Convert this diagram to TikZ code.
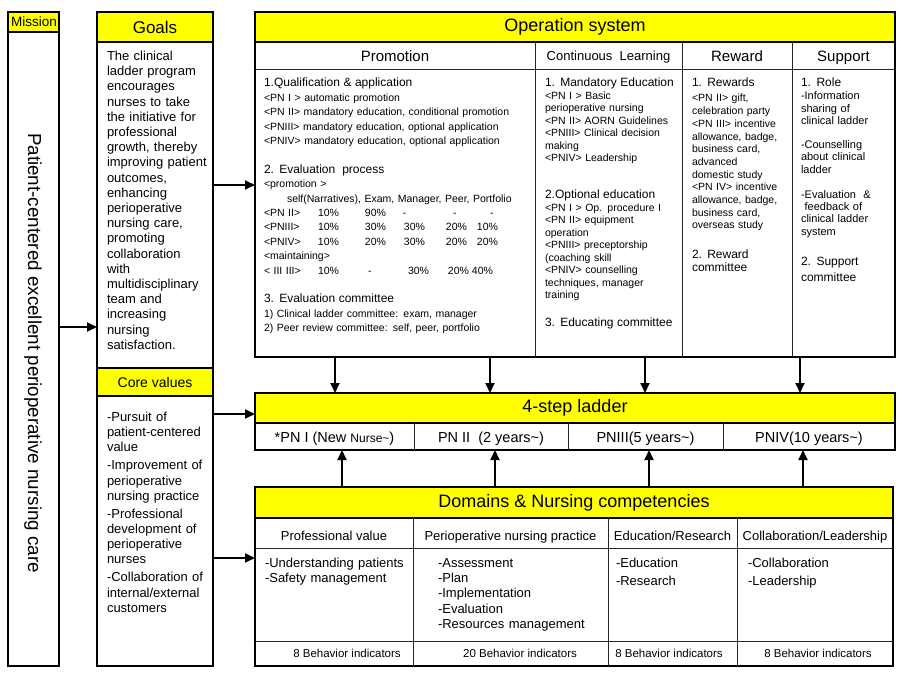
\documentclass[tikz,border=0pt]{standalone}
\usepackage{fontspec}
\setmainfont{Liberation Sans}
\usetikzlibrary{arrows.meta}
\definecolor{hy}{RGB}{255,255,0}
\newcommand\myfs[2]{\fontsize{#1}{#2}\selectfont}
\newcommand\hd{\fontsize{12}{12}\selectfont}
\newcommand\pc[2]{\makebox[0pt][l]{\hspace*{#1pt}#2}}
\begin{document}
\begin{tikzpicture}[x=1pt,y=-1pt,
  outerbox/.style={draw, line width=2.6pt, inner sep=0pt, outer sep=0pt, rectangle},
  hdrbox/.style={draw, fill=hy, line width=1.4pt, inner sep=0pt, outer sep=0pt, rectangle},
  thinline/.style={line width=1pt, black!85},
  lbl/.style={inner sep=0pt, outer sep=0pt},
  bl/.style={inner sep=0pt, outer sep=0pt, anchor=base},
  txt/.style={inner sep=0pt, outer sep=0pt, anchor=base west, align=left},
  arr/.style={line width=1.8pt, -{Triangle[length=10pt,width=9pt]}},
]
\useasboundingbox (0,0) rectangle (902,674);

% ---------------- Mission ----------------
\node[hdrbox, minimum width=51pt, minimum height=20pt] (missionh) at (33.5,22) {};
\node[bl, font=\myfs{13.5}{14}] (missiont) at (34,27) {Mission};
\node[outerbox, minimum width=51pt, minimum height=654pt] (mission) at (33.5,339) {};
\node[lbl, rotate=-90, font=\myfs{18.8}{20}] (mtext) at (33,353) {Patient-centered excellent perioperative nursing care};

% ---------------- Goals ----------------
\node[hdrbox, minimum width=116pt, minimum height=30pt] (goalsh) at (155,27) {\myfs{17}{18}Goals};
\node[hdrbox, minimum width=116pt, minimum height=28pt] (coreh) at (155,382) {\myfs{14}{15}Core values};
\node[outerbox, minimum width=116pt, minimum height=654pt] (goals) at (155,339) {};
\node[txt, text width=106pt, font=\myfs{13}{15.2}] (goalstxt) at (107,60.5) {The clinical\\ladder program\\encourages\\nurses to take\\the initiative for\\professional\\growth, thereby\\improving patient\\outcomes,\\enhancing\\perioperative\\nursing care,\\promoting\\collaboration\\with\\multidisciplinary\\team and\\increasing\\nursing\\satisfaction.};
\node[txt, text width=106pt, font=\myfs{13}{15.2}] (coretxt) at (107,421.5) {-Pursuit of\\patient-centered\\value\\[2.8pt]-Improvement of\\perioperative\\nursing practice\\[2.8pt]-Professional\\development of\\perioperative\\nurses\\[2.8pt]-Collaboration of\\internal/external\\customers};

% ---------------- Operation system ----------------
\node[hdrbox, minimum width=640pt, minimum height=30pt] (oph) at (575,27) {\myfs{18}{20}Operation system};
\node[outerbox, minimum width=640pt, minimum height=345pt] (op) at (575,184.5) {};
\coordinate (opsub) at (0,70);
\draw[thinline] (op.west |- opsub) -- (op.east |- opsub);
\foreach \xx in {535,682,792} {\draw[thinline] (\xx,42) -- (\xx,357);}
\node[bl, font=\myfs{15}{16}] (promh) at (395,62) {Promotion};
\node[bl, font=\myfs{13}{14}] (clh) at (608.5,61) {Continuous\ \ Learning};
\node[bl, font=\myfs{15}{16}] (rewh) at (737,62) {Reward};
\node[bl, font=\myfs{15}{16}] (suph) at (843.5,62) {Support};

\node[txt, text width=268pt, font=\myfs{10.5}{14.4}] (promtxt) at (264,87) {%
{\hd 1.Qualification \& application}\\
<PN I > automatic promotion\\
<PN II> mandatory education, conditional promotion\\
<PNIII> mandatory education, optional application\\
<PNIV> mandatory education, optional application\\
\mbox{}\\
{\hd 2. Evaluation\ \ process}\\
<promotion >\\
\hspace*{23pt}self(Narratives), Exam, Manager, Peer, Portfolio\\
\pc{0}{<PN II>}\pc{54}{10\%}\pc{101}{90\%}\pc{139}{-}\pc{189}{-}\pc{226}{-}\\
\pc{0}{<PNIII>}\pc{54}{10\%}\pc{101}{30\%}\pc{140}{30\%}\pc{182}{20\%}\pc{213}{10\%}\\
\pc{0}{<PNIV>}\pc{54}{10\%}\pc{101}{20\%}\pc{140}{30\%}\pc{182}{20\%}\pc{213}{20\%}\\
<maintaining>\\
\pc{0}{< III III>}\pc{54}{10\%}\pc{104}{-}\pc{144}{30\%}\pc{184}{20\%}\pc{208}{40\%}\\
\mbox{}\\
{\hd 3. Evaluation committee}\\
1) Clinical ladder committee: exam, manager\\
2) Peer review committee: self, peer, portfolio};

\node[txt, text width=140pt, font=\myfs{10.5}{12.5}] (cltxt) at (545,87) {%
{\hd 1. Mandatory Education}\\
<PN I > Basic\\
perioperative nursing\\
<PN II> AORN Guidelines\\
<PNIII> Clinical decision\\
making\\
<PNIV> Leadership\\[24.5pt]
{\hd 2.Optional education}\\
<PN I > Op. procedure I\\
<PN II> equipment\\
operation\\
<PNIII> preceptorship\\
(coaching skill\\
<PNIV> counselling\\
techniques, manager\\
training\\[15.5pt]
{\hd 3. Educating committee}};

\node[txt, text width=100pt, font=\myfs{10.5}{12.7}] (rewtxt) at (692,87) {%
{\hd 1. Rewards}\\[2.3pt]
<PN II> gift,\\
celebration party\\
<PN III> incentive\\
allowance, badge,\\
business card,\\
advanced\\
domestic study\\
<PN IV> incentive\\
allowance, badge,\\
business card,\\
overseas study\\[17.3pt]
{\hd 2. Reward}\\
{\hd committee}};

\node[txt, text width=95pt, font=\myfs{11}{12.3}] (suptxt) at (801,87) {%
{\hd 1. Role}\\[0.7pt]
-Information\\
sharing of\\
clinical ladder\\[11.7pt]
-Counselling\\
about clinical\\
ladder\\[12.7pt]
-Evaluation\ \ \&\\
\ feedback of\\
clinical ladder\\
system\\[17.7pt]
{\hd 2. Support}\\[3.7pt]
{\hd committee}};

% ---------------- 4-step ladder ----------------
\node[hdrbox, minimum width=640pt, minimum height=30pt] (ladh) at (575,408) {\myfs{18}{20}4-step ladder};
\node[outerbox, minimum width=640pt, minimum height=57pt] (ladder) at (575,421.5) {};
\foreach \xx in {414,568,723} {\draw[thinline] (\xx,423) -- (\xx,450);}
\node[bl, font=\myfs{14.5}{16}] (pn1) at (334.5,442) {*PN I (New {\myfs{12}{13}Nurse\textasciitilde})};
\node[bl, font=\myfs{14.5}{16}] (pn2) at (491,442) {PN II\ \ (2 years\textasciitilde)};
\node[bl, font=\myfs{14.5}{16}] (pn3) at (645.5,442) {PNIII(5 years\textasciitilde)};
\node[bl, font=\myfs{14.5}{16}] (pn4) at (809,442) {PNIV(10 years\textasciitilde)};

% ---------------- Domains ----------------
\node[hdrbox, minimum width=638pt, minimum height=31pt] (domh) at (574,502.5) {\myfs{18}{20}Domains \& Nursing competencies};
\node[outerbox, minimum width=638pt, minimum height=179pt] (dom) at (574,576.5) {};
\coordinate (dsub) at (0,548);
\coordinate (dfoot) at (0,641);
\draw[thinline] (dom.west |- dsub) -- (dom.east |- dsub);
\draw[thinline] (dom.west |- dfoot) -- (dom.east |- dfoot);
\foreach \xx in {413,608,737} {\draw[thinline] (\xx,518) -- (\xx,666);}
\node[bl, font=\myfs{13}{14}] (d1h) at (334,540) {Professional value};
\node[bl, font=\myfs{13}{14}] (d2h) at (510.5,540) {Perioperative nursing practice};
\node[bl, font=\myfs{13}{14}] (d3h) at (672.5,540) {Education/Research};
\node[bl, font=\myfs{13}{14}] (d4h) at (815,540) {Collaboration/Leadership};
\node[txt, text width=150pt, font=\myfs{13}{15.2}] (d1t) at (265,567.5) {-Understanding patients\\-Safety management};
\node[txt, text width=168pt, font=\myfs{13}{15.2}] (d2t) at (438,567.5) {-Assessment\\-Plan\\-Implementation\\-Evaluation\\-Resources management};
\node[txt, text width=120pt, font=\myfs{13}{15.2}] (d3t) at (616,567.5) {-Education\\[2.8pt]-Research};
\node[txt, text width=140pt, font=\myfs{13}{15.2}] (d4t) at (748,567.5) {-Collaboration\\[2.8pt]-Leadership};
\node[lbl, font=\myfs{11.5}{12}] (d1f) at (347,653) {8 Behavior indicators};
\node[lbl, font=\myfs{11.5}{12}] (d2f) at (520,653) {20 Behavior indicators};
\node[lbl, font=\myfs{11.5}{12}] (d3f) at (669,653) {8 Behavior indicators};
\node[lbl, font=\myfs{11.5}{12}] (d4f) at (818,653) {8 Behavior indicators};

% ---------------- Connectors ----------------
\coordinate (y1) at (0,327);
\coordinate (y2) at (0,185);
\coordinate (y3) at (0,414);
\coordinate (y4) at (0,558);
\draw[arr] (mission.east |- y1) -- (goals.west |- y1);
\draw[arr] (goals.east |- y2) -- (op.west |- y2);
\draw[arr] (goals.east |- y3) -- (ladder.west |- y3);
\draw[arr] (goals.east |- y4) -- (dom.west |- y4);
\foreach \xx [count=\i] in {335,490,645,800} {
  \coordinate (dn\i) at (\xx,0);
  \draw[arr] (op.south -| dn\i) -- (ladder.north -| dn\i);
}
\foreach \xx [count=\i] in {342,495,649,803} {
  \coordinate (up\i) at (\xx,0);
  \draw[arr] (dom.north -| up\i) -- (ladder.south -| up\i);
}
\end{tikzpicture}
\end{document}
